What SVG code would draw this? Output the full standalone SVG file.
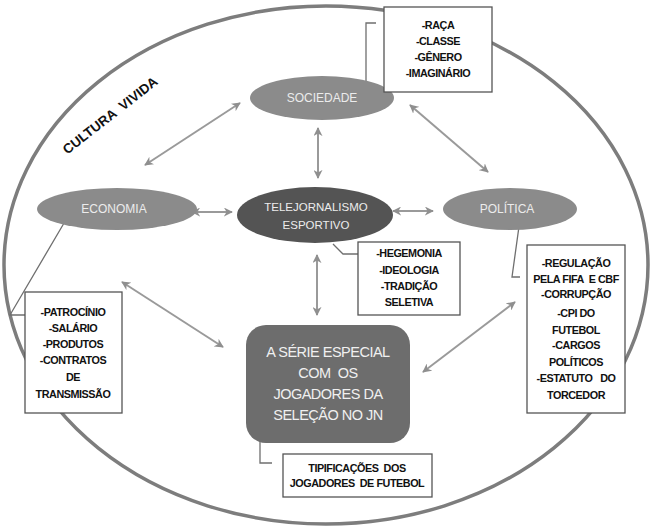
<svg xmlns="http://www.w3.org/2000/svg" width="650" height="528" viewBox="0 0 650 528" xml:space="preserve">
<defs>
<marker id="ah" viewBox="0 0 10 10" refX="9" refY="5" markerWidth="4.5" markerHeight="4.5" orient="auto-start-reverse" markerUnits="strokeWidth">
<path d="M0,0 L10,5 L0,10 L3,5 Z" fill="#8f8f8f"/>
</marker>
</defs>
<style>
text{white-space:pre}
.bg{fill:#ffffff}
.outer{fill:none;stroke:#7d7d7d;stroke-width:3.5}
.node{fill:#8b8b8b}
.dark{fill:#545454}
.serie{fill:#6d6d6d}
.nt{font-family:"Liberation Sans",Arial,sans-serif;font-size:12px;fill:#ececec;text-anchor:middle}
.st{font-family:"Liberation Sans",Arial,sans-serif;font-size:14.5px;fill:#f0f0f0;text-anchor:middle;letter-spacing:-0.5px}
.box{fill:#ffffff;stroke:#555555;stroke-width:1.3}
.bt{font-family:"Liberation Sans",Arial,sans-serif;font-size:10.8px;font-weight:bold;fill:#111111;text-anchor:middle;letter-spacing:-0.45px}
.arr{fill:none;stroke:#9a9a9a;stroke-width:2;marker-start:url(#ah);marker-end:url(#ah)}
.lead{fill:none;stroke:#6f6f6f;stroke-width:1.3}
.cv{font-family:"Liberation Sans",Arial,sans-serif;font-size:13.5px;font-weight:bold;fill:#111111;text-anchor:middle}
</style>
<rect class="bg" x="0" y="0" width="650" height="528"/>
<ellipse class="outer" cx="326" cy="265" rx="322" ry="259"/>
<text class="cv" transform="translate(113,119) rotate(-38)">CULTURA  VIVIDA</text>

<g id="connectors">
<line class="arr" x1="240" y1="103" x2="145" y2="165"/>
<line class="arr" x1="318" y1="128" x2="318" y2="178"/>
<line class="arr" x1="410" y1="105" x2="488" y2="172"/>
<line class="arr" x1="192" y1="212" x2="232" y2="212"/>
<line class="arr" x1="393" y1="211" x2="433" y2="211"/>
<line class="arr" x1="317" y1="255" x2="317" y2="315"/>
<line class="arr" x1="122" y1="282" x2="223" y2="347"/>
<line class="arr" x1="515" y1="302" x2="423" y2="372"/>
<path class="lead" d="M376,23 H366 V93 L378,106"/>
<path class="lead" d="M67,218 L10,315 H25"/>
<path class="lead" d="M333,244 L343,254 H358"/>
<path class="lead" d="M521,212 L512,277 H520"/>
<path class="lead" d="M260,426 V463 H272"/>
</g>

<g id="sociedade">
<ellipse class="node" cx="322" cy="98" rx="72" ry="22"/>
<text class="nt" x="322" y="102">SOCIEDADE</text>
</g>
<g id="economia">
<ellipse class="node" cx="117" cy="209" rx="80" ry="21"/>
<text class="nt" x="114" y="213">ECONOMIA</text>
</g>
<g id="telejornalismo">
<ellipse class="dark" cx="315" cy="215" rx="78" ry="28"/>
<text class="nt" x="316" y="211" style="font-size:11.5px">TELEJORNALISMO</text>
<text class="nt" x="316" y="229" style="font-size:11.5px">ESPORTIVO</text>
</g>
<g id="politica">
<ellipse class="node" cx="510" cy="209" rx="67" ry="21"/>
<text class="nt" x="507" y="213">POLÍTICA</text>
</g>
<g id="serie">
<rect class="serie" x="246" y="325" width="164" height="118" rx="20" ry="20"/>
<text class="st" x="328" y="357">A SÉRIE ESPECIAL</text>
<text class="st" x="328" y="378">COM  OS</text>
<text class="st" x="328" y="399">JOGADORES DA</text>
<text class="st" x="328" y="420">SELEÇÃO NO JN</text>
</g>

<g id="box-sociedade">
<rect class="box" x="384" y="7" width="108" height="85"/>
<text class="bt" x="438" y="29">-RAÇA</text>
<text class="bt" x="438" y="45">-CLASSE</text>
<text class="bt" x="438" y="61">-GÊNERO</text>
<text class="bt" x="438" y="77">-IMAGINÁRIO</text>
</g>
<g id="box-economia">
<rect class="box" x="25" y="292" width="97" height="121"/>
<text class="bt" x="73" y="316">-PATROCÍNIO</text>
<text class="bt" x="73" y="332">-SALÁRIO</text>
<text class="bt" x="73" y="348">-PRODUTOS</text>
<text class="bt" x="73" y="364">-CONTRATOS</text>
<text class="bt" x="73" y="381">DE</text>
<text class="bt" x="73" y="398">TRANSMISSÃO</text>
</g>
<g id="box-telejornalismo">
<rect class="box" x="358" y="242" width="102" height="73"/>
<text class="bt" x="409" y="257">-HEGEMONIA</text>
<text class="bt" x="409" y="274">-IDEOLOGIA</text>
<text class="bt" x="409" y="290">-TRADIÇÃO</text>
<text class="bt" x="409" y="306">SELETIVA</text>
</g>
<g id="box-politica">
<rect class="box" x="527" y="245" width="98" height="168"/>
<text class="bt" x="576" y="267">-REGULAÇÃO</text>
<text class="bt" x="576" y="283">PELA FIFA  E CBF</text>
<text class="bt" x="576" y="298">-CORRUPÇÃO</text>
<text class="bt" x="576" y="317">-CPI DO</text>
<text class="bt" x="576" y="334">FUTEBOL</text>
<text class="bt" x="576" y="349">-CARGOS</text>
<text class="bt" x="576" y="366">POLÍTICOS</text>
<text class="bt" x="576" y="382">-ESTATUTO   DO</text>
<text class="bt" x="576" y="399">TORCEDOR</text>
</g>
<g id="box-serie">
<rect class="box" x="283" y="454" width="149" height="43"/>
<text class="bt" x="357" y="472">TIPIFICAÇÕES  DOS</text>
<text class="bt" x="357" y="487">JOGADORES  DE FUTEBOL</text>
</g>
</svg>
